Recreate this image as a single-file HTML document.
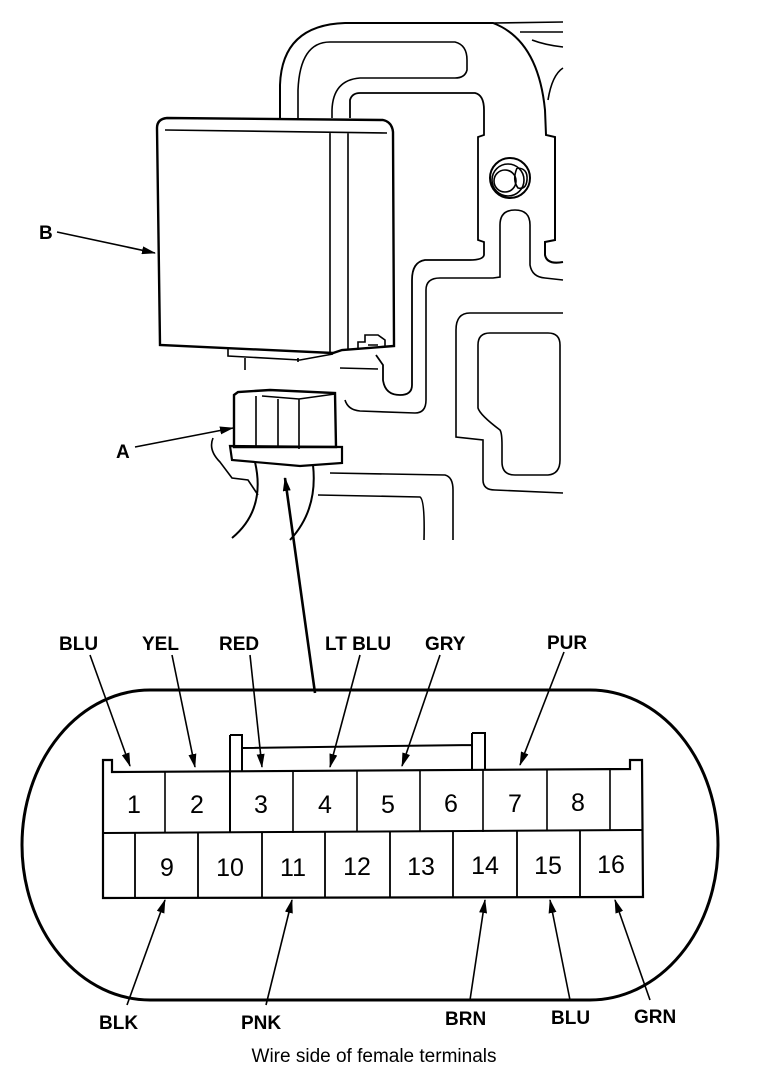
<!DOCTYPE html>
<html><head><meta charset="utf-8"><style>
html,body{margin:0;padding:0;background:#fff;}
svg{display:block}
text{font-family:"Liberation Sans",sans-serif;font-weight:bold;fill:#000;}
</style></head><body>
<svg width="768" height="1078" viewBox="0 0 768 1078" xmlns="http://www.w3.org/2000/svg">
<defs>
<marker id="ah" markerWidth="14" markerHeight="8" refX="13" refY="4" orient="auto" markerUnits="userSpaceOnUse">
<path d="M0,0 L14,4 L0,8 Z" fill="#000"/></marker>
</defs>
<g fill="none" stroke="#000" stroke-width="1.6">
<path d="M280,118 L280,85 Q282,25 345,23 L493,23 Q538,40 545,110 L546,135 L555,137 L555,240 L545,242 L545,255 Q547,265 563,262" stroke-width="2"/>
<path d="M493,23 L563,22 M520,32 L563,32 M532,40 Q545,45 563,47 M548,100 Q552,75 563,68"/>
<path d="M298,118 L298,90 Q300,42 330,42 L455,42 Q467,45 467,60 L467,70 Q465,78 455,78 L360,78 Q333,80 332,110 L332,118"/>
<path d="M350,118 L350,100 Q352,93 360,93 L475,93 Q484,95 484,110 L484,135 L478,137 L478,240 L484,242 L484,255 Q483,260 470,260 L425,260 Q412,262 412,280 L412,385 Q412,395 400,395 Q385,395 383,380 L383,365 L376,355" stroke-width="1.8"/>
<path d="M345,400 Q348,410 360,411 L415,413 Q426,413 426,400 L426,290 Q426,278 440,278 L493,278 L500,277 L500,225 Q500,210 515,210 Q530,210 530,225 L530,265 Q532,277 545,278 L563,280"/>
<path d="M340,368 L378,369"/>
<path d="M563,313 L470,313 Q456,313 456,330 L456,437 L483,440 L483,480 Q483,490 495,490 L563,493"/>
<path d="M548,333 L490,333 Q478,333 478,345 L478,408 Q480,415 500,430 Q502,433 502,445 L502,462 Q502,475 515,475 L548,475 Q560,474 560,460 L560,345 Q560,333 548,333 Z"/>
<path d="M330,473 L445,475 Q453,477 453,490 L453,540 M318,495 L420,497 Q425,500 424,540"/>
<circle cx="510" cy="178" r="20" stroke-width="2"/>
<circle cx="508" cy="180" r="16"/>
<circle cx="505" cy="181" r="11"/>
<path d="M517,168 Q528,168 527,180 Q526,190 518,188 Q512,180 517,168"/>
<path d="M157,128 Q157,119 167,118 L383,120 Q392,122 393,132 L394,346 L342,350 L333,353 L160,345 Z" stroke-width="2.4"/>
<path d="M165,130 L387,133 M330,133 L330,352 M348,133 L348,350"/>
<path d="M228,348 L228,356 L300,360 L333,354 M245,358 L245,370 M298,358 L298,362"/>
<path d="M358,350 L358,342 L365,342 L365,335 L378,335 L385,340 L385,347 M368,345 L378,345"/>
<path d="M234,395 L238,392 L270,390 L335,393 L336,447 L234,447 Z" stroke-width="2.4"/>
<path d="M256,396 L256,447 M278,399 L278,448 M299,399 L299,449 M262,396 L299,399 L335,394"/>
<path d="M230,446 L342,447 L342,463 L300,466 L232,460 Z" stroke-width="2.2"/>
<path d="M255,462 Q266,510 232,538 M313,465 Q318,510 290,540" stroke-width="2"/>
<path d="M213,438 Q208,450 220,462 L232,478 L248,480 L258,495"/>
<line x1="57" y1="232" x2="155" y2="253" marker-end="url(#ah)"/>
<line x1="135" y1="447" x2="233" y2="428" marker-end="url(#ah)"/>
<line x1="315" y1="693" x2="285" y2="478" stroke-width="2.6" marker-end="url(#ah)"/>
<path d="M150,690 L590,690 A128,155 0 0 1 590,1000 L150,1000 A128,155 0 0 1 150,690 Z" stroke-width="3"/>
<path d="M103,760 L112,760 L112,772 L630,769 L630,760 L642,760 L643,897 L103,898 Z" stroke-width="2.2"/>
<path d="M103,833 L643,830" stroke-width="2"/>
<path d="M230,735 L242,735 L242,771 M230,735 L230,833 M472,733 L485,733 L485,770 M472,733 L472,770 M242,748 L472,745" stroke-width="2"/>
<path d="M165,771 L165,833 M293,771 L293,833 M357,771 L357,832 M420,770 L420,832 M483,770 L483,832 M547,770 L547,831 M610,769 L610,831"/>
<path d="M135,833 L135,898 M198,833 L198,898 M262,832 L262,898 M325,832 L325,897 M390,832 L390,897 M453,831 L453,897 M517,831 L517,897 M580,831 L580,897" stroke-width="1.8"/>
<line x1="90" y1="655" x2="130" y2="766" marker-end="url(#ah)"/>
<line x1="172" y1="655" x2="195" y2="767" marker-end="url(#ah)"/>
<line x1="250" y1="655" x2="262" y2="767" marker-end="url(#ah)"/>
<line x1="360" y1="655" x2="330" y2="767" marker-end="url(#ah)"/>
<line x1="440" y1="655" x2="402" y2="766" marker-end="url(#ah)"/>
<line x1="564" y1="652" x2="520" y2="765" marker-end="url(#ah)"/>
<line x1="127" y1="1005" x2="165" y2="900" marker-end="url(#ah)"/>
<line x1="266" y1="1005" x2="292" y2="900" marker-end="url(#ah)"/>
<line x1="470" y1="1000" x2="485" y2="900" marker-end="url(#ah)"/>
<line x1="570" y1="1000" x2="550" y2="900" marker-end="url(#ah)"/>
<line x1="650" y1="1000" x2="615" y2="900" marker-end="url(#ah)"/>
</g>
<g font-size="19">
<text x="39" y="239">B</text>
<text x="116" y="458">A</text>
<text x="59" y="650">BLU</text>
<text x="142" y="650">YEL</text>
<text x="219" y="650">RED</text>
<text x="325" y="650">LT BLU</text>
<text x="425" y="650">GRY</text>
<text x="547" y="649">PUR</text>
<text x="99" y="1029">BLK</text>
<text x="241" y="1029">PNK</text>
<text x="445" y="1025">BRN</text>
<text x="551" y="1024">BLU</text>
<text x="634" y="1023">GRN</text>
</g>
<g font-size="25" text-anchor="middle">
<text x="134" y="813" style="font-weight:normal">1</text>
<text x="197" y="813" style="font-weight:normal">2</text>
<text x="261" y="813" style="font-weight:normal">3</text>
<text x="325" y="813" style="font-weight:normal">4</text>
<text x="388" y="813" style="font-weight:normal">5</text>
<text x="451" y="812" style="font-weight:normal">6</text>
<text x="515" y="812" style="font-weight:normal">7</text>
<text x="578" y="811" style="font-weight:normal">8</text>
<text x="167" y="876" style="font-weight:normal">9</text>
<text x="230" y="876" style="font-weight:normal">10</text>
<text x="293" y="876" style="font-weight:normal">11</text>
<text x="357" y="875" style="font-weight:normal">12</text>
<text x="421" y="875" style="font-weight:normal">13</text>
<text x="485" y="874" style="font-weight:normal">14</text>
<text x="548" y="874" style="font-weight:normal">15</text>
<text x="611" y="873" style="font-weight:normal">16</text>
</g>
<text x="374" y="1062" font-size="19" text-anchor="middle" style="font-weight:normal">Wire side of female terminals</text>
</svg>
</body></html>
